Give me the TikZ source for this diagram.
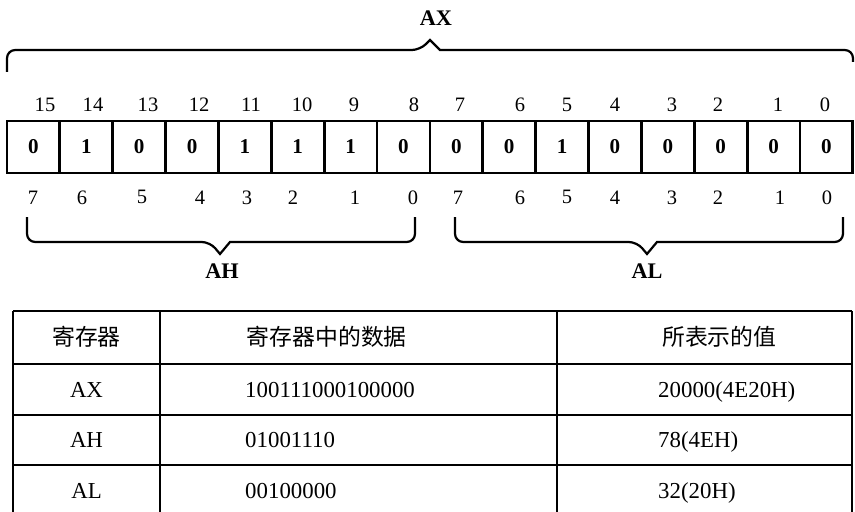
\documentclass[tikz,border=0pt]{standalone}
\usepackage{fontspec}
\setmainfont{Liberation Serif}
\newfontfamily\cjk{Noto Sans CJK SC}
\usepackage{tikz}
\usetikzlibrary{calc}

\begin{document}
\begin{tikzpicture}[
 bit/.style={draw,line width=2.4pt,minimum width=15.86mm,minimum height=15.6mm,inner sep=0pt,font=\fontsize{18}{20}\selectfont\bfseries},
 idx/.style={inner sep=0pt,font=\fontsize{17.5}{20}\selectfont},
 lbl/.style={inner sep=0pt,font=\fontsize{19}{22}\selectfont\bfseries},
 brc/.style={line width=1.9pt,rounded corners=7pt},
 rule/.style={line width=2pt},
 tc/.style={inner sep=0pt,text height=13pt,text depth=0pt,font=\fontsize{19.5}{22}\selectfont},
 tl/.style={tc,anchor=west}]
\useasboundingbox (0,0) rectangle (25.65,-15.36);
% AX brace
\node[lbl] (lax) at (13.08,-0.54) {AX};
\coordinate (ax1) at (0.21,-2.16);
\coordinate (axt) at (12.90,-1.20);
\coordinate (ax2) at (25.59,-1.86);
\draw[brc] (ax1) |- ($(axt)+(-0.30,-0.30)$) [sharp corners] -- (axt) -- ($(axt)+(0.30,-0.30)$) [rounded corners=7pt] -| (ax2);
% upper bit numbers
\node[idx] (t15) at (1.35,-3.15) {15};
\node[idx] (t14) at (2.79,-3.15) {14};
\node[idx] (t13) at (4.44,-3.15) {13};
\node[idx] (t12) at (5.97,-3.15) {12};
\node[idx] (t11) at (7.53,-3.15) {11};
\node[idx] (t10) at (9.06,-3.15) {10};
\node[idx] (t9) at (10.62,-3.15) {9};
\node[idx] (t8) at (12.42,-3.15) {8};
\node[idx] (t7) at (13.80,-3.15) {7};
\node[idx] (t6) at (15.60,-3.15) {6};
\node[idx] (t5) at (17.01,-3.15) {5};
\node[idx] (t4) at (18.45,-3.15) {4};
\node[idx] (t3) at (20.16,-3.15) {3};
\node[idx] (t2) at (21.54,-3.15) {2};
\node[idx] (t1) at (23.34,-3.15) {1};
\node[idx] (t0) at (24.75,-3.15) {0};
% register cells
\node[bit] (c15) at (1.003,-4.41) {0};
\node[bit] (c14) at (2.589,-4.41) {1};
\node[bit] (c13) at (4.175,-4.41) {0};
\node[bit] (c12) at (5.761,-4.41) {0};
\node[bit] (c11) at (7.347,-4.41) {1};
\node[bit] (c10) at (8.933,-4.41) {1};
\node[bit] (c9) at (10.519,-4.41) {1};
\node[bit] (c8) at (12.105,-4.41) {0};
\node[bit] (c7) at (13.691,-4.41) {0};
\node[bit] (c6) at (15.277,-4.41) {0};
\node[bit] (c5) at (16.863,-4.41) {1};
\node[bit] (c4) at (18.449,-4.41) {0};
\node[bit] (c3) at (20.035,-4.41) {0};
\node[bit] (c2) at (21.621,-4.41) {0};
\node[bit] (c1) at (23.207,-4.41) {0};
\node[bit] (c0) at (24.793,-4.41) {0};
% lower bit numbers
\node[idx] (h7) at (0.99,-5.92) {7};
\node[idx] (h6) at (2.46,-5.92) {6};
\node[idx] (h5) at (4.26,-5.92) {5};
\node[idx] (h4) at (6.00,-5.92) {4};
\node[idx] (h3) at (7.41,-5.92) {3};
\node[idx] (h2) at (8.79,-5.92) {2};
\node[idx] (h1) at (10.65,-5.92) {1};
\node[idx] (h0) at (12.39,-5.92) {0};
\node[idx] (l7) at (13.74,-5.92) {7};
\node[idx] (l6) at (15.60,-5.92) {6};
\node[idx] (l5) at (17.01,-5.92) {5};
\node[idx] (l4) at (18.45,-5.92) {4};
\node[idx] (l3) at (20.16,-5.92) {3};
\node[idx] (l2) at (21.54,-5.92) {2};
\node[idx] (l1) at (23.40,-5.92) {1};
\node[idx] (l0) at (24.81,-5.92) {0};
% AH / AL braces
\coordinate (ah1) at (0.81,-6.51);
\coordinate (aht) at (6.60,-7.62);
\coordinate (ah2) at (12.45,-6.51);
\draw[brc] (ah1) |- ($(aht)+(-0.30,0.36)$) [sharp corners] -- (aht) -- ($(aht)+(0.30,0.36)$) [rounded corners=7pt] -| (ah2);
\node[lbl] (lah) at (6.66,-8.13) {AH};
\coordinate (al1) at (13.65,-6.51);
\coordinate (alt) at (19.41,-7.62);
\coordinate (al2) at (25.29,-6.51);
\draw[brc] (al1) |- ($(alt)+(-0.30,0.36)$) [sharp corners] -- (alt) -- ($(alt)+(0.30,0.36)$) [rounded corners=7pt] -| (al2);
\node[lbl] (lal) at (19.41,-8.13) {AL};
% table
\draw[rule] (0.39,-9.33) -- (25.56,-9.33);
\draw[rule] (0.39,-10.92) -- (25.56,-10.92);
\draw[rule] (0.39,-12.45) -- (25.56,-12.45);
\draw[rule] (0.39,-13.95) -- (25.56,-13.95);
\draw[rule] (0.39,-9.33) -- (0.39,-15.36);
\draw[rule] (4.80,-9.33) -- (4.80,-15.36);
\draw[rule] (16.71,-9.33) -- (16.71,-15.36);
\draw[rule] (25.56,-9.33) -- (25.56,-15.36);
\node[tc] (r0) at (2.595,-10.125) {\cjk 寄存器};
\node[tl] (d0) at (7.40,-10.125) {\cjk 寄存器中的数据};
\node[tl] (v0) at (19.86,-10.125) {\cjk 所表示的值};
\node[tc] (r1) at (2.595,-11.685) {AX};
\node[tl] (d1) at (7.35,-11.685) {100111000100000};
\node[tl] (v1) at (19.74,-11.685) {20000(4E20H)};
\node[tc] (r2) at (2.595,-13.20) {AH};
\node[tl] (d2) at (7.35,-13.20) {01001110};
\node[tl] (v2) at (19.74,-13.20) {78(4EH)};
\node[tc] (r3) at (2.595,-14.715) {AL};
\node[tl] (d3) at (7.35,-14.715) {00100000};
\node[tl] (v3) at (19.74,-14.715) {32(20H)};
\end{tikzpicture}
\end{document}
